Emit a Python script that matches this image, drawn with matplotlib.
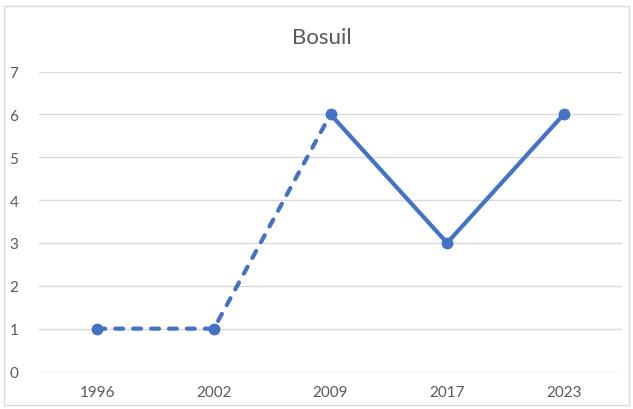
import matplotlib
matplotlib.use("Agg")
import matplotlib.pyplot as plt
from matplotlib.patches import Rectangle

years = ["1996", "2002", "2009", "2017", "2023"]
values = [1, 1, 6, 3, 6]
dashed_until = 2  # index where dashed segment ends
title = "Bosuil"

color = "#4472C4"
plt.rcParams['font.family'] = ['Lato', 'DejaVu Sans']

fig = plt.figure(figsize=(6.33, 4.10), dpi=100)
ax = fig.add_axes([39/633, 37.5/410, (622-39)/633, 300/410])

x = list(range(len(years)))
ax.plot(x[:dashed_until+1], values[:dashed_until+1], color=color, lw=3,
        linestyle=(0, (1.9, 2.4)), dash_capstyle='round', zorder=3)
ax.plot(x[dashed_until:], values[dashed_until:], color=color, lw=3,
        solid_joinstyle='miter', zorder=3)
ax.plot(x, values, linestyle='none', marker='o', markersize=7.5, color=color, zorder=4)

ax.set_xlim(-0.5, len(years) - 0.5)
ax.set_ylim(0, 7)
ax.set_yticks(range(0, 8))
ax.set_xticks(x)
ax.set_xticklabels(years)
ax.grid(axis='y', color='#D9D9D9', lw=1)
ax.set_axisbelow(True)
for s in ax.spines.values():
    s.set_visible(False)
ax.tick_params(length=0, labelsize=11, labelcolor='#595959')
ax.tick_params(axis='y', pad=15)
ax.tick_params(axis='x', pad=10)

fig.text(322/633, 1 - 38/410, title, ha='center', va='center', fontsize=16, color='#595959')
fig.patches.append(Rectangle((4/633, 4/410), 625/633, 399/410, transform=fig.transFigure,
                             fill=False, edgecolor='#D9D9D9', lw=1))

fig.savefig("out.png", dpi=100)
